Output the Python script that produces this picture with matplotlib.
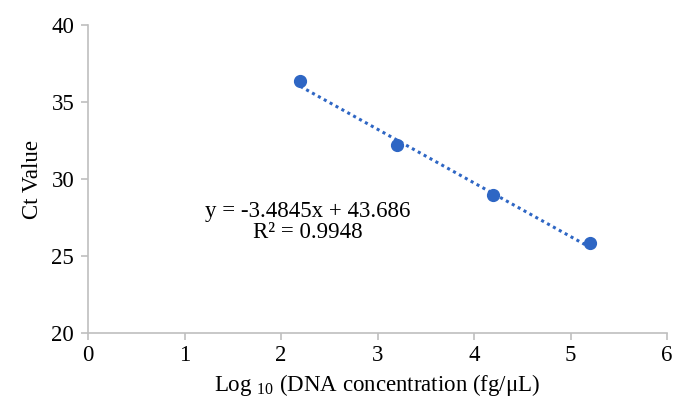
import matplotlib.pyplot as plt
import numpy as np

# Data
log_conc = [2.2, 3.2, 4.2, 5.2]
ct_values = [36.35, 32.2, 28.95, 25.85]
slope = -3.4845
intercept = 43.686
r_squared = 0.9948

x_ticks = [0, 1, 2, 3, 4, 5, 6]
y_ticks = [20, 25, 30, 35, 40]

blue = "#2E66C4"
grey = "#BFBFBF"

plt.rcParams["font.family"] = ["Liberation Serif", "DejaVu Serif"]
plt.rcParams["mathtext.fontset"] = "custom"
plt.rcParams["mathtext.rm"] = "Liberation Serif"
plt.rcParams["font.size"] = 16


def main():
    fig = plt.figure(figsize=(6.88, 4.05), dpi=100)
    ax = fig.add_axes([0.128, 0.178, 0.8415, 0.76])

    # Linear trend line (dotted) from the fitted equation
    x_fit = np.array([log_conc[0], log_conc[-1]])
    ax.plot(x_fit, slope * x_fit + intercept, linestyle=(0, (1, 1.2)),
            color=blue, linewidth=2.2, zorder=2)

    # Data points
    ax.plot(log_conc, ct_values, "o", color=blue, markersize=8.5, zorder=3)

    ax.text(2.28, 28.6, f"y = {slope}x + {intercept}\nR² = {r_squared}",
            ha="center", va="top", fontsize=16.5, linespacing=1.0)

    ax.set_xlim(0, 6)
    ax.set_ylim(20, 40)
    ax.set_xticks(x_ticks)
    ax.set_yticks(y_ticks)

    for side in ["top", "right"]:
        ax.spines[side].set_visible(False)
    for side in ["left", "bottom"]:
        ax.spines[side].set_color(grey)
        ax.spines[side].set_linewidth(1.2)
    ax.tick_params(colors=grey, labelcolor="black", labelsize=16.5,
                   length=5, width=1.2)
    ax.tick_params(axis="x", pad=4)
    ax.tick_params(axis="y", pad=5)

    ax.set_xlabel(r"Log $_{\mathrm{10}}$ (DNA concentration (fg/μL)",
                  fontsize=16.5, labelpad=4)
    ax.set_ylabel("Ct Value", fontsize=16.5, labelpad=6)

    fig.savefig("out.png", dpi=100)


if __name__ == "__main__":
    main()
